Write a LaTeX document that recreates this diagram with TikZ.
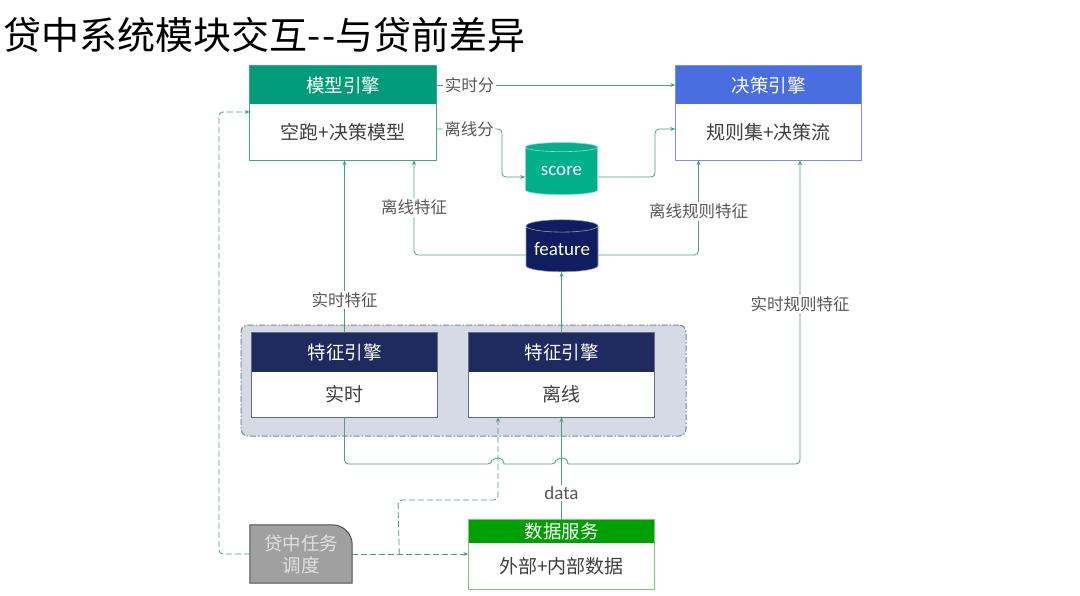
\documentclass[tikz,border=0pt]{standalone}
\usepackage{fontspec}
\setmainfont{Noto Sans CJK SC}[Ligatures=NoCommon]
\newfontfamily\latinf{Carlito}
\usetikzlibrary{shapes.geometric,arrows.meta}
\definecolor{mhead}{RGB}{0,155,120}
\definecolor{mbord}{RGB}{60,170,140}
\definecolor{dhead}{RGB}{74,110,224}
\definecolor{dbord}{RGB}{120,145,235}
\definecolor{scorec}{RGB}{0,176,138}
\definecolor{featc}{RGB}{14,30,96}
\definecolor{fhead}{RGB}{31,42,94}
\definecolor{fbord}{RGB}{100,108,140}
\definecolor{grpfill}{RGB}{214,218,228}
\definecolor{grpbord}{RGB}{120,132,168}
\definecolor{dshead}{RGB}{0,160,0}
\definecolor{dsbord}{RGB}{110,210,110}
\definecolor{taskfill}{RGB}{160,160,160}
\definecolor{taskbord}{RGB}{80,80,80}
\definecolor{connc}{RGB}{70,160,130}
\definecolor{lblc}{RGB}{89,89,89}
\definecolor{bodyc}{RGB}{64,64,64}
\begin{document}
\begin{tikzpicture}[x=1pt,y=-1pt,
  headbox/.style={inner sep=0pt, minimum width=186pt, text=white, font=\fontsize{18.5}{20}\selectfont},
  bodybox/.style={inner sep=0pt, minimum width=186pt, fill=white, text=bodyc, font=\fontsize{19}{21}\selectfont},
  cyl/.style={cylinder, shape border rotate=90, aspect=0.22, minimum width=72pt, minimum height=52pt, inner sep=0pt, text=white, font=\latinf\fontsize{19}{21}\selectfont},
  conn/.style={draw=connc, line width=0.8pt, -{Stealth[length=5pt,width=4pt]}},
  dconn/.style={conn, dash pattern=on 6pt off 3pt},
  lbl/.style={fill=white, inner sep=1.5pt, text=lblc, font=\fontsize{16.5}{18}\selectfont},
]
\useasboundingbox (0,0) rectangle (1080,595);

% title
\node[anchor=west, inner sep=0pt, font=\fontsize{38}{42}\selectfont] (title) at (3,35) {贷中系统模块交互-\kern2pt-与贷前差异};

% feature group
\node[draw=grpbord, fill=grpfill, line width=1pt, rounded corners=7pt,
      dash pattern=on 6pt off 2pt on 1.5pt off 2pt,
      minimum width=445pt, minimum height=111pt, inner sep=0pt] (grp) at (463.5,380.5) {};

% model engine
\node[headbox, fill=mhead, minimum height=38pt] (mh) at (343,85) {模型引擎};
\node[bodybox, minimum height=56pt] (mb) at (343,132) {空跑+决策模型};
\draw[mbord, line width=1pt] (mh.north west) rectangle (mb.south east);

% decision engine
\node[headbox, fill=dhead, minimum height=38pt] (dh) at (768.5,85) {决策引擎};
\node[bodybox, minimum height=56pt] (db) at (768.5,132) {规则集+决策流};
\draw[dbord, line width=1pt] (dh.north west) rectangle (db.south east);

% cylinders
\node[cyl, fill=scorec, draw=white!55!scorec, line width=0.6pt] (sc) at (561.5,171) {score};
\node[cyl, fill=featc, draw=white!55!featc, line width=0.6pt] (fe) at (562,249) {feature};

% feature engines
\node[headbox, fill=fhead, minimum height=39pt] (rh) at (344.5,352.5) {特征引擎};
\node[bodybox, minimum height=45pt] (rb) at (344.5,394.5) {实时};
\draw[fbord, line width=1pt] (rh.north west) rectangle (rb.south east);
\node[headbox, fill=fhead, minimum height=39pt] (oh) at (561.5,352.5) {特征引擎};
\node[bodybox, minimum height=45pt] (ob) at (561.5,394.5) {离线};
\draw[fbord, line width=1pt] (oh.north west) rectangle (ob.south east);

% data service
\node[headbox, fill=dshead, minimum height=23pt] (dsh) at (561.5,531.5) {数据服务};
\node[bodybox, minimum height=46pt] (dsb) at (561.5,566) {外部+内部数据};
\draw[dsbord, line width=1pt] (dsh.north west) rectangle (dsb.south east);

% task scheduler
\node[inner sep=0pt, minimum width=102pt, minimum height=58pt] (task) at (301,554) {};
\draw[fill=taskfill, draw=taskbord, line width=1pt]
  (task.south west) -- (task.north west) -- ([xshift=-20pt]task.north east)
  arc[start angle=90, end angle=0, radius=20pt] -- (task.south east) -- cycle;
\node[align=center, text=white!88!black, font=\fontsize{18.5}{22}\selectfont] (tasktxt) at (task.center) {贷中任务\\调度};

% connectors
\draw[conn] (mh.east) -- node[lbl, pos=0.14]{实时分} (dh.west);
\draw[conn, rounded corners=4pt] ([yshift=3pt]mb.east) -- node[lbl]{离线分} (502,129) |- ([yshift=-6pt]sc.west);
\draw[conn, rounded corners=4pt] ([yshift=-6pt]sc.east) -| (655,129) -- ([yshift=3pt]db.west);
\draw[conn, rounded corners=4pt] ([yshift=-6pt]fe.west) -| node[lbl, pos=0.75]{离线特征} ([xshift=71pt]mb.south);
\draw[conn, rounded corners=4pt] ([yshift=-6pt]fe.east) -| node[lbl, pos=0.73]{离线规则特征} ([xshift=-70pt]db.south);
\draw[conn] (rh.north) -- node[lbl, pos=0.19]{实时特征} (rh.north |- mb.south);
\draw[conn] (oh.north) -- (oh.north |- fe.south);
\draw[conn] (dsh.north) -- node[lbl, pos=0.26, font=\latinf\fontsize{19}{21}\selectfont]{data} (ob.south);
\draw[conn, rounded corners=4pt] (rb.south) -- (rb.south |- 0,464) -- (492,464)
  {[sharp corners] arc[start angle=180, end angle=360, radius=6]} -- (556,464)
  {[sharp corners] arc[start angle=180, end angle=360, radius=6]} -- (800,464) -- ([xshift=31.5pt]db.south);
\node[lbl] (rtlbl) at (800,304) {实时规则特征};

% dashed
\draw[dconn, rounded corners=4pt] (task.west) -- (219,554) -- (219,112) -- ([yshift=20pt]mb.west);
\draw[dconn] (task.east) -- (task.east -| dsb.west);
\draw[dconn, rounded corners=4pt] ([xshift=47pt]task.east) -- (398,500) -- (498,500) -- ([xshift=-63.5pt]ob.south);
\end{tikzpicture}
\end{document}
